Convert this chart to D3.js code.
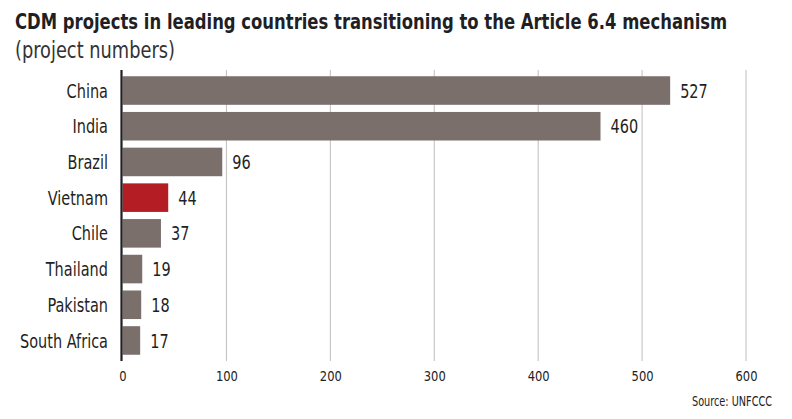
<!DOCTYPE html>
<html>
<head>
<meta charset="utf-8">
<script src="https://cdn.jsdelivr.net/npm/d3@7"></script>
<style>
  html, body { margin: 0; padding: 0; background: #fff; }
  svg { display: block; }
  text { font-family: "Liberation Sans Narrow", "DejaVu Sans Condensed", "Roboto Condensed", sans-serif; fill: #1f1f24; }
</style>
</head>
<body>
<svg id="chart" width="792" height="419"></svg>
<script>
const categories = ["China", "India", "Brazil", "Vietnam", "Chile", "Thailand", "Pakistan", "South Africa"];
const values = [527, 460, 96, 44, 37, 19, 18, 17];
const highlight = ["Vietnam"];
const ticks = [0, 100, 200, 300, 400, 500, 600];
const titleText = "CDM projects in leading countries transitioning to the Article 6.4 mechanism";
const subtitleText = "(project numbers)";
const sourceText = "Source: UNFCCC";

const data = categories.map((c, i) => ({ name: c, value: values[i] }));

const svg = d3.select("#chart");
const x = d3.scaleLinear().domain([0, 600]).range([122.5, 746]);
const y = d3.scaleBand().domain(categories).range([70, 361]).paddingInner(0.2).paddingOuter(0.175);

function measure(str, size, weight) {
  const t = svg.append("text").style("font-size", size + "px").style("font-weight", weight || "normal").text(str);
  const w = t.node().getComputedTextLength();
  t.remove();
  return w;
}
const kLabel = Math.min(1, 88 / measure("South Africa", 19.5));
const kSmall = Math.min(1, 80 / measure(sourceText, 14));
const kTick = Math.min(1, 22 / measure("400", 14.5));

function place(sel, px, py, k) {
  sel.attr("x", 0).attr("y", 0).attr("transform", `translate(${px},${py}) scale(${k},1)`);
}

// Title
const kTitle = 713 / measure(titleText, 21.5, "bold");
svg.append("text").style("font-weight", "bold").style("font-size", "21.5px").text(titleText)
  .call(place, 15, 28.5, kTitle);

const kSub = 160 / measure(subtitleText, 22.5);
svg.append("text").style("font-size", "22.5px").style("fill", "#333").text(subtitleText)
  .call(place, 15, 58, kSub);

// Grid lines
svg.append("g").selectAll("line").data(ticks.filter(t => t > 0)).join("line")
  .attr("x1", d => x(d)).attr("x2", d => x(d))
  .attr("y1", 70).attr("y2", 361)
  .attr("stroke", "#bdbdbd").attr("stroke-width", 1);

// Bars
svg.append("g").selectAll("rect").data(data).join("rect")
  .attr("x", x(0))
  .attr("y", d => y(d.name))
  .attr("width", d => x(d.value) - x(0))
  .attr("height", y.bandwidth())
  .attr("fill", d => highlight.includes(d.name) ? "#b41d24" : "#7b6f6b");

// Baseline
svg.append("line").attr("x1", x(0) - 1).attr("x2", x(0) - 1).attr("y1", 70).attr("y2", 361)
  .attr("stroke", "#1f1f24").attr("stroke-width", 2.2);

// Category labels
svg.append("g").selectAll("text").data(data).join("text")
  .attr("dy", "0.36em")
  .attr("text-anchor", "end")
  .style("font-size", "19.5px")
  .text(d => d.name)
  .each(function(d) { d3.select(this).call(place, 108, y(d.name) + y.bandwidth() / 2, kLabel); });

// Value labels
svg.append("g").selectAll("text").data(data).join("text")
  .attr("dy", "0.36em")
  .style("font-size", "19.5px")
  .text(d => d.value)
  .each(function(d) { d3.select(this).call(place, x(d.value) + 10, y(d.name) + y.bandwidth() / 2, kLabel); });

// X axis
const xAxis = d3.axisBottom(x).tickValues(ticks).tickSize(0).tickPadding(0);
const ax = svg.append("g").attr("transform", "translate(0,370)").call(xAxis);
ax.select(".domain").remove();
ax.selectAll("text").attr("y", 11).attr("dy", 0)
  .attr("transform", `scale(${kTick},1)`)
  .style("font-size", "14.5px").style("font-family", "\"Liberation Sans Narrow\", \"DejaVu Sans Condensed\", sans-serif")
  .style("fill", "#222");

// Source
svg.append("text").attr("text-anchor", "end")
  .style("font-size", "14px").style("fill", "#222").text(sourceText)
  .call(place, 772, 406, kSmall);
</script>
</body>
</html>
